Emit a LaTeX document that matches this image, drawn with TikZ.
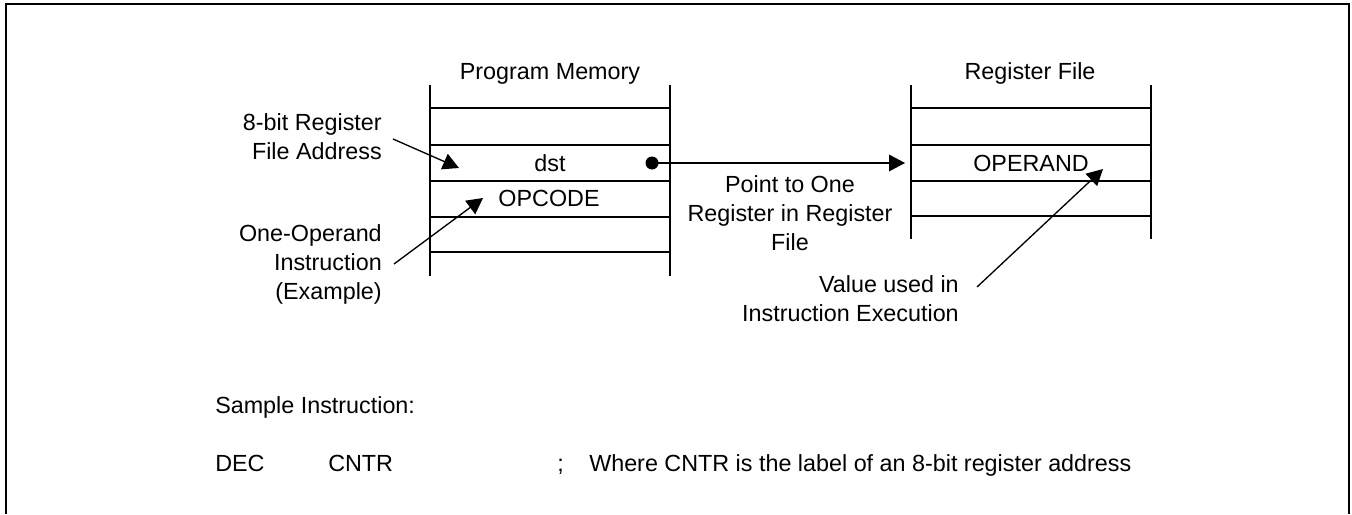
\documentclass[tikz,border=0pt]{standalone}
\usepackage{fontspec}
\setmainfont{Liberation Sans}
\usetikzlibrary{arrows.meta}

\begin{document}
\begin{tikzpicture}[x=0.75pt,y=-0.75pt,
    txt/.style={font=\fontsize{17.5}{21.4}\selectfont,inner sep=0pt},
    cell/.style={line width=1.2pt},
    ptr/.style={line width=1pt,-{Triangle[length=12pt,width=12.5pt]}}]
    \useasboundingbox (0,0) rectangle (1352,514);

    % outer frame (open at the bottom)
    \draw[line width=1.9pt] (6,514) -- (6,4) -- (1349,4) -- (1349,514);

    % program memory column
    \draw[cell] (430,85) -- (430,276) (670,85) -- (670,276);
    \foreach \y in {108,145,181,217,252}
        \draw[cell] (430,\y) -- (670,\y);
    \node[txt,anchor=base] (pmtitle) at (550,79) {Program Memory};
    \node[txt,anchor=base] (dst) at (550,171) {dst};
    \node[txt,anchor=base] (opcode) at (549,206) {OPCODE};

    % register file column
    \draw[cell] (911,85) -- (911,239) (1151,85) -- (1151,239);
    \foreach \y in {108,145,181,216}
        \draw[cell] (911,\y) -- (1151,\y);
    \node[txt,anchor=base] (rftitle) at (1030,79) {Register File};
    \node[txt,anchor=base] (operand) at (1031,171) {OPERAND};

    % pointer from dst to the register
    \coordinate (dot) at (652,163);
    \coordinate (reg) at (905,163);
    \fill (dot) circle (6.5);
    \draw[ptr] (dot) -- (reg);
    \node[txt,align=center,anchor=base] (point) at (790,250)
        {Point to One\\Register in Register\\File};

    % side labels (base = last line)
    \node[txt,align=right,anchor=base east] (addr) at (382,159)
        {8-bit Register\\File Address};
    \node[txt,align=right,anchor=base east] (oneop) at (382,299)
        {One-Operand\\Instruction\\(Example)};
    \node[txt,align=right,anchor=base east] (value) at (959,321)
        {Value used in\\Instruction Execution};

    \coordinate (addrtail) at (393,139);
    \coordinate (addrtip) at (459,168);
    \coordinate (oneoptail) at (394,264);
    \coordinate (oneoptip) at (483,198);
    \coordinate (valuetail) at (977,287);
    \coordinate (valuetip) at (1103,169);
    \draw[ptr] (addrtail) -- (addrtip);
    \draw[ptr] (oneoptail) -- (oneoptip);
    \draw[ptr] (valuetail) -- (valuetip);

    % sample instruction
    \node[txt,anchor=base west] (sample) at (215,413) {Sample Instruction:};
    \node[txt,anchor=base west] (dec) at (215,471) {DEC};
    \node[txt,anchor=base west] (cntr) at (328,471) {CNTR};
    \node[txt,anchor=base west] (semi) at (557,471) {;};
    \node[txt,anchor=base west] (where) at (589,471)
        {Where CNTR is the label of an 8-bit register address};
\end{tikzpicture}
\end{document}
